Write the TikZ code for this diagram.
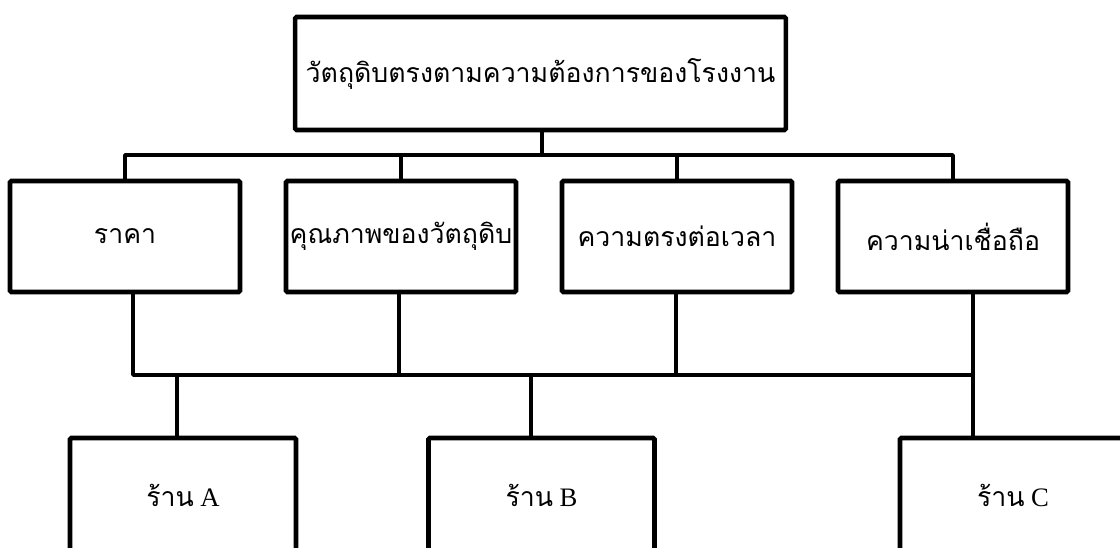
\documentclass[tikz,border=0pt]{standalone}
\usepackage{fontspec}
\setmainfont{Liberation Serif}
\newfontfamily\thaifont[Script=Thai]{Loma}
\usepackage{tikz}
\usetikzlibrary{positioning}

\begin{document}
\begin{tikzpicture}[
    x=0.75pt, y=-0.75pt,
    node distance=34.5pt,
    font=\fontsize{20}{24}\selectfont,
    box/.style={draw, line width=3.4pt, rounded corners=1pt, align=center, inner sep=0pt, outer sep=0pt},
    goal/.style={box, minimum width=368pt, minimum height=84.75pt},
    crit/.style={box, minimum width=172.5pt, minimum height=83.25pt},
    shop/.style={box, minimum width=169.5pt, minimum height=85.5pt},
    link/.style={line width=2.8pt, line join=round}
  ]
  \useasboundingbox (0,0) rectangle (1120,548);

  % --- Nodes (three rows) ---
  \node[goal] (goal) at (540.5,73.5) {\thaifont วัตถุดิบตรงตามความต้องการของโรงงาน};

  \node[crit] (price) at (125,236.5) {\thaifont ราคา};
  \node[crit, right=of price] (quality) {\thaifont คุณภาพของวัตถุดิบ};
  \node[crit, right=of quality] (ontime) {\thaifont ความตรงต่อเวลา};
  \node[crit, right=of ontime] (trust) {\thaifont ความน่าเชื่อถือ};

  \node[shop] (shopA) at (183,495) {{\thaifont ร้าน} A};
  \node[shop] (shopB) at (541.5,495) {{\thaifont ร้าน} B};
  \node[shop] (shopC) at (1013,495) {{\thaifont ร้าน} C};

  % bus junctions
  \coordinate (busTop) at (542,155);
  \coordinate (k1) at (133,375);
  \coordinate (k2) at (399,375);
  \coordinate (k3) at (676,375);
  \coordinate (k4) at (973,375);
  \coordinate (d1) at (177,375);
  \coordinate (d2) at (531,375);

  % --- Lines ---
  \draw[link] (goal.south -| busTop) -- (busTop);
  \draw[link] (price.north) |- (busTop) -| (trust.north);
  \draw[link] (quality.north) -- (quality.north |- busTop);
  \draw[link] (ontime.north) -- (ontime.north |- busTop);

  \draw[link] (k1 |- price.south) -- (k1) -- (k4);
  \draw[link] (k2 |- quality.south) -- (k2);
  \draw[link] (k3 |- ontime.south) -- (k3);
  \draw[link] (k4 |- trust.south) -- (k4 |- shopC.north);
  \draw[link] (d1) -- (d1 |- shopA.north);
  \draw[link] (d2) -- (d2 |- shopB.north);

\end{tikzpicture}
\end{document}
